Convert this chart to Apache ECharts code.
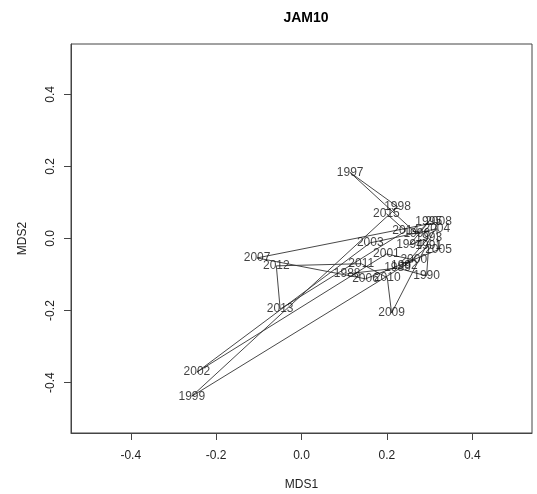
<!DOCTYPE html>
<html>
<head>
<meta charset="utf-8">
<script src="https://cdn.jsdelivr.net/npm/echarts@6/dist/echarts.min.js"></script>
<style>
  html, body { margin: 0; padding: 0; background: #fff; }
  #chart { width: 537px; height: 494px; }
</style>
</head>
<body>
<div id="chart"></div>
<script>
// Yearly MDS coordinates, connected in chronological order
const years = [1988, 1989, 1990, 1991, 1992, 1993, 1994, 1995, 1996, 1997,
               1998, 1999, 2000, 2001, 2002, 2003, 2004, 2005, 2006, 2007,
               2008, 2009, 2010, 2011, 2012, 2013, 2014, 2015];
const mds1 = [0.107, 0.225, 0.293, 0.298, 0.241, 0.298, 0.253, 0.298, 0.270, 0.114,
              0.225, -0.257, 0.263, 0.199, -0.245, 0.161, 0.317, 0.321, 0.150, -0.104,
              0.321, 0.211, 0.201, 0.140, -0.059, -0.050, 0.244, 0.199];
const mds2 = [-0.098, -0.082, -0.104, -0.020, -0.076, 0.002, -0.018, 0.046, 0.013, 0.183,
              0.088, -0.438, -0.059, -0.043, -0.371, -0.012, 0.027, -0.031, -0.112, -0.054,
              0.046, -0.207, -0.109, -0.070, -0.076, -0.196, 0.021, 0.069];
const tickValues = [-0.4, -0.2, 0.0, 0.2, 0.4];

const points = years.map((y, i) => [mds1[i], mds2[i], y]);
const font = 'Liberation Sans, Arial, sans-serif';

const axisCommon = {
  type: 'value',
  min: -0.54,
  max: 0.54,
  splitLine: { show: false },
  axisLine: { show: true, onZero: false, lineStyle: { color: '#444', width: 1 } },
  axisTick: { show: true, length: 7, customValues: tickValues, lineStyle: { color: '#444' } },
  axisLabel: {
    customValues: tickValues,
    formatter: v => v.toFixed(1),
    color: '#222', fontSize: 12, fontFamily: font
  },
  nameLocation: 'middle',
  nameTextStyle: { color: '#222', fontSize: 12, fontFamily: font }
};

const chart = echarts.init(document.getElementById('chart'), null, { renderer: 'canvas' });
chart.setOption({
  animation: false,
  backgroundColor: '#fff',
  title: {
    text: 'JAM10',
    left: 301, top: 6, textAlign: 'center',
    textStyle: { fontSize: 14, fontWeight: 'bold', fontFamily: font, color: '#000' }
  },
  grid: {
    left: 71, right: 5, top: 44, bottom: 61,
    outerBoundsMode: 'none',
    containLabel: false,
    show: true, borderColor: '#444', borderWidth: 1
  },
  xAxis: Object.assign({}, axisCommon, {
    name: 'MDS1', nameGap: 46,
    axisLabel: Object.assign({}, axisCommon.axisLabel, { margin: 17 })
  }),
  yAxis: Object.assign({}, axisCommon, {
    name: 'MDS2', nameGap: 42, nameRotate: 90,
    axisLabel: Object.assign({}, axisCommon.axisLabel, { rotate: 90, margin: 14, align: 'center', verticalAlign: 'bottom' })
  }),
  series: [
    {
      type: 'line',
      data: points,
      symbol: 'none',
      lineStyle: { color: '#333', width: 0.9 },
      z: 2
    },
    {
      type: 'scatter',
      data: points,
      symbolSize: 0,
      label: {
        show: true,
        position: 'inside',
        formatter: p => String(p.value[2]),
        color: '#111', fontSize: 12, fontFamily: font
      },
      z: 3
    }
  ]
});
</script>
</body>
</html>
